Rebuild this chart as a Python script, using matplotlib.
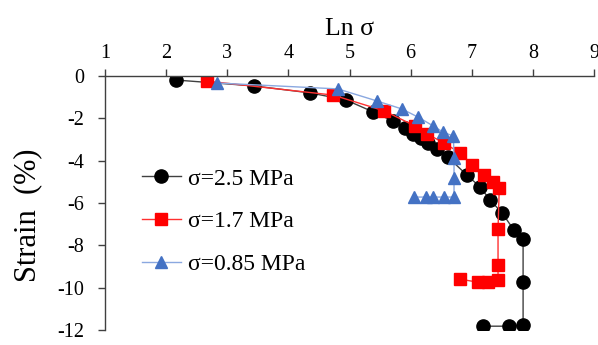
from matplotlib import pyplot as plt

plt.rcParams['font.family'] = ['Liberation Serif', 'DejaVu Serif']
plt.rcParams['axes.unicode_minus'] = False

# sigma = 2.5 MPa
ln_s_25 = [2.16, 3.44, 4.36, 4.94, 5.39, 5.71, 5.91, 6.04, 6.17, 6.29, 6.43, 6.61,
           6.92, 7.14, 7.30, 7.50, 7.69, 7.84, 7.84, 7.84, 7.61, 7.19]
strain_25 = [-0.19, -0.47, -0.80, -1.13, -1.70, -2.13, -2.46, -2.74, -2.93, -3.17, -3.45, -3.83,
             -4.68, -5.25, -5.86, -6.48, -7.28, -7.71, -9.74, -11.77, -11.82, -11.82]

# sigma = 1.7 MPa
ln_s_17 = [2.67, 4.73, 5.57, 6.07, 6.27, 6.55, 6.81, 7.01, 7.20, 7.35, 7.45,
           7.43, 7.43, 7.43, 7.27, 7.10, 6.81]
strain_17 = [-0.24, -0.90, -1.65, -2.36, -2.74, -3.17, -3.64, -4.21, -4.68, -5.01, -5.30,
             -7.23, -8.94, -9.65, -9.74, -9.74, -9.60]

# sigma = 0.85 MPa
ln_s_085 = [2.83, 4.81, 5.45, 5.86, 6.12, 6.37, 6.53, 6.70, 6.71, 6.71, 6.71,
            6.55, 6.37, 6.25, 6.06]
strain_085 = [-0.33, -0.61, -1.18, -1.56, -1.94, -2.36, -2.65, -2.84, -3.88, -4.82, -5.72,
              -5.72, -5.72, -5.72, -5.72]

labels = ['σ=2.5 MPa', 'σ=1.7 MPa', 'σ=0.85 MPa']

fig = plt.figure(figsize = (5.98, 3.45), dpi = 100)
ax = fig.add_axes([105 / 598, 1 - 330 / 345, 489 / 598, 254 / 345])

ax.plot(ln_s_25, strain_25, color = '#404040', linewidth = 1.0, marker = 'o',
        markersize = 9.5, markerfacecolor = 'black', markeredgecolor = 'black', label = labels[0])
ax.plot(ln_s_17, strain_17, color = '#FF3030', linewidth = 1.0, marker = 's',
        markersize = 8.5, markerfacecolor = '#FF0000', markeredgecolor = '#FF0000', label = labels[1])
ax.plot(ln_s_085, strain_085, color = '#8AA8E0', linewidth = 1.0, marker = '^',
        markersize = 9, markerfacecolor = '#4472C4', markeredgecolor = '#4472C4', label = labels[2])

ax.set_xlim(1, 9)
ax.set_ylim(-12, 0)
ax.set_xticks(range(1, 10))
ax.set_yticks(range(-12, 1, 2))

ax.xaxis.tick_top()
ax.xaxis.set_label_position('top')
ax.spines['bottom'].set_visible(False)
ax.spines['right'].set_visible(False)
for s in ['top', 'left']:
  ax.spines[s].set_color('#404040')
  ax.spines[s].set_linewidth(1.0)
ax.tick_params(axis = 'both', direction = 'out', length = 5, width = 1.0,
               color = '#404040', labelsize = 14.5)
ax.tick_params(axis = 'x', pad = 4)
ax.tick_params(axis = 'y', pad = 10)

ax.set_xlabel('Ln σ', fontsize = 18.5, labelpad = 7)
ax.set_ylabel('Strain  (%)', fontsize = 22)
ax.yaxis.set_label_coords(-0.128, 0.45)

ax.legend(loc = 'upper left', bbox_to_anchor = (0.056, 0.675), frameon = False,
          fontsize = 17, handlelength = 1.65, handletextpad = 0.3,
          labelspacing = 0.9, borderaxespad = 0)

fig.savefig('out.png')
